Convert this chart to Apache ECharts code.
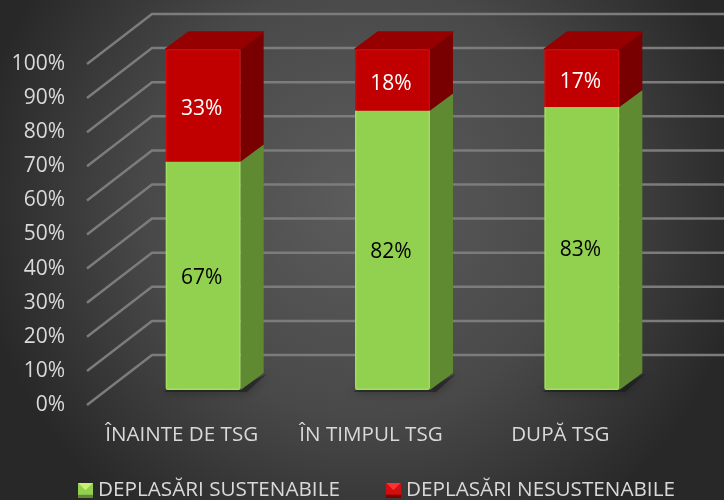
<!DOCTYPE html>
<html><head><meta charset="utf-8">
<style>html,body{margin:0;padding:0;background:#333}#c{width:724px;height:500px}</style>
<script src="https://cdn.jsdelivr.net/npm/echarts@6/dist/echarts.min.js"></script>
</head><body><div id="c"></div>
<script>
const categories = ['ÎNAINTE DE TSG', 'ÎN TIMPUL TSG', 'DUPĂ TSG'];
const sustainable = [67, 82, 83];
const unsustainable = [33, 18, 17];
const percentLabels = { sustainable: ['67%', '82%', '83%'], unsustainable: ['33%', '18%', '17%'] };
const tickValues = [0, 10, 20, 30, 40, 50, 60, 70, 80, 90, 100];
const seriesNames = ['DEPLASĂRI SUSTENABILE', 'DEPLASĂRI NESUSTENABILE'];

const FONT = '"Open Sans", "Noto Sans", sans-serif';
const WALL = [65, -50], DEPTH = [23, -17], BAR_SHIFT = [21.5, -15];

function bevelIcon(top, mid, bottom, side) {
  const svg = `<svg xmlns="http://www.w3.org/2000/svg" width="14" height="14"><rect width="14" height="14" fill="${side}"/><polygon points="0,0 14,0 7,7" fill="${top}"/><polygon points="0,0 7,7 7,11 0,11" fill="${mid}"/><polygon points="14,0 7,7 7,11 14,11" fill="${mid}"/><polygon points="0,11 14,11 14,14 0,14" fill="${bottom}"/></svg>`;
  return 'image://data:image/svg+xml;base64,' + btoa(svg);
}

function bar(front, side, top, edge, textColor, labels, isLower) {
  return function (params, api) {
    const i = api.value(0);
    const p0 = api.coord([i, api.value(1)]), p1 = api.coord([i, api.value(2)]);
    const w = api.size([1, 0])[0] * 0.396;
    const cx = p0[0] + BAR_SHIFT[0];
    const l = cx - w / 2, r = cx + w / 2;
    const yb = p0[1] + BAR_SHIFT[1], yt = p1[1] + BAR_SHIFT[1];
    const dx = DEPTH[0], dy = DEPTH[1];
    const children = [];
    if (isLower) {
      children.push({ type: 'polygon', shape: { points: [[l + 8, yb - 3], [r, yb - 3], [r + dx + 3, yb + dy + 1], [r + 6, yb + 2], [l - 2, yb + 2]] },
        style: { fill: 'rgba(25,25,25,0.55)', shadowBlur: 9, shadowColor: 'rgba(15,15,15,0.85)' } });
    }
    children.push({ type: 'polygon', shape: { points: [[r, yb], [r + dx, yb + dy], [r + dx, yt + dy], [r, yt]] }, style: { fill: side } });
    if (!isLower) {
      children.push({ type: 'polygon', shape: { points: [[l, yt], [l + dx, yt + dy], [r + dx, yt + dy], [r, yt]] }, style: { fill: top, lineJoin: 'round', stroke: top, lineWidth: 1.5 } });
    }
    children.push({ type: 'rect', shape: { x: l, y: yt, width: w, height: yb - yt, r: isLower ? [0, 0, 2, 2] : [3, 3, 0, 0] }, style: { fill: edge } });
    children.push({ type: 'rect', shape: { x: l + 1.5, y: isLower ? yt : yt + 1.5, width: w - 3, height: yb - yt - 1.5 }, style: { fill: front } });
    children.push({ type: 'text', style: { text: labels[i], x: cx - 1.5, y: (yb + yt) / 2 + (isLower ? 2 : 4), fill: textColor, font: '21px ' + FONT, align: 'center', verticalAlign: 'middle' } });
    return { type: 'group', children };
  };
}

const chart = echarts.init(document.getElementById('c'), null, { renderer: 'canvas' });
chart.setOption({
  animation: false,
  backgroundColor: { type: 'radial', x: 0.5, y: 0.4, r: 0.78, colorStops: [
    { offset: 0, color: '#5c5c5c' }, { offset: 0.55, color: '#494949' }, { offset: 1, color: '#282828' }] },
  grid: { left: 87, right: 69, top: 64, height: 341, containLabel: false },
  xAxis: { type: 'category', data: categories, axisLine: { show: false }, axisTick: { show: false },
    axisLabel: { color: '#d9d9d9', fontFamily: FONT, fontSize: 20.6, margin: 20, interval: 0, hideOverlap: false } },
  yAxis: { type: 'value', min: 0, max: 100, interval: 10, splitLine: { show: false }, axisLine: { show: false }, axisTick: { show: false },
    axisLabel: { color: '#d9d9d9', fontFamily: FONT, fontSize: 21, margin: 22, padding: [4, 0, 0, 0], formatter: '{value}%' } },
  legend: { left: 78, top: 480, itemWidth: 15, itemHeight: 15, itemGap: 46, padding: 0, selectedMode: false,
    textStyle: { color: '#d9d9d9', fontFamily: FONT, fontSize: 20.7, padding: [0, 0, 0, 0] },
    data: [
      { name: seriesNames[0], icon: bevelIcon('#c8f070', '#92d050', '#5f8a32', '#92d050') },
      { name: seriesNames[1], icon: bevelIcon('#ff3030', '#d01010', '#800000', '#c00000') }] },
  series: [
    { type: 'custom', silent: true, z: 1, data: tickValues.map(v => [v]), encode: { y: 0 },
      renderItem(params, api) {
        const p = api.coord([0, api.value(0)]);
        const x0 = params.coordSys.x, xEnd = 724, y = p[1];
        return { type: 'polyline', shape: { points: [[x0, y], [x0 + WALL[0], y + WALL[1]], [xEnd, y + WALL[1]]] },
          style: { stroke: '#7c7c7c', lineWidth: 2.5, fill: null } };
      } },
    { type: 'custom', name: seriesNames[0], silent: true, z: 2, data: sustainable.map((v, i) => [i, 0, v]), encode: { x: 0, y: [1, 2] },
      itemStyle: { color: '#92d050' }, renderItem: bar('#92d050', '#5f8a32', '#6f9f3a', '#a2de60', '#000000', percentLabels.sustainable, true) },
    { type: 'custom', name: seriesNames[1], silent: true, z: 3, data: unsustainable.map((v, i) => [i, sustainable[i], sustainable[i] + v]), encode: { x: 0, y: [1, 2] },
      itemStyle: { color: '#c00000' }, renderItem: bar('#c00000', '#780000', '#960000', '#d00808', '#ffffff', percentLabels.unsustainable, false) }
  ]
});
</script></body></html>
